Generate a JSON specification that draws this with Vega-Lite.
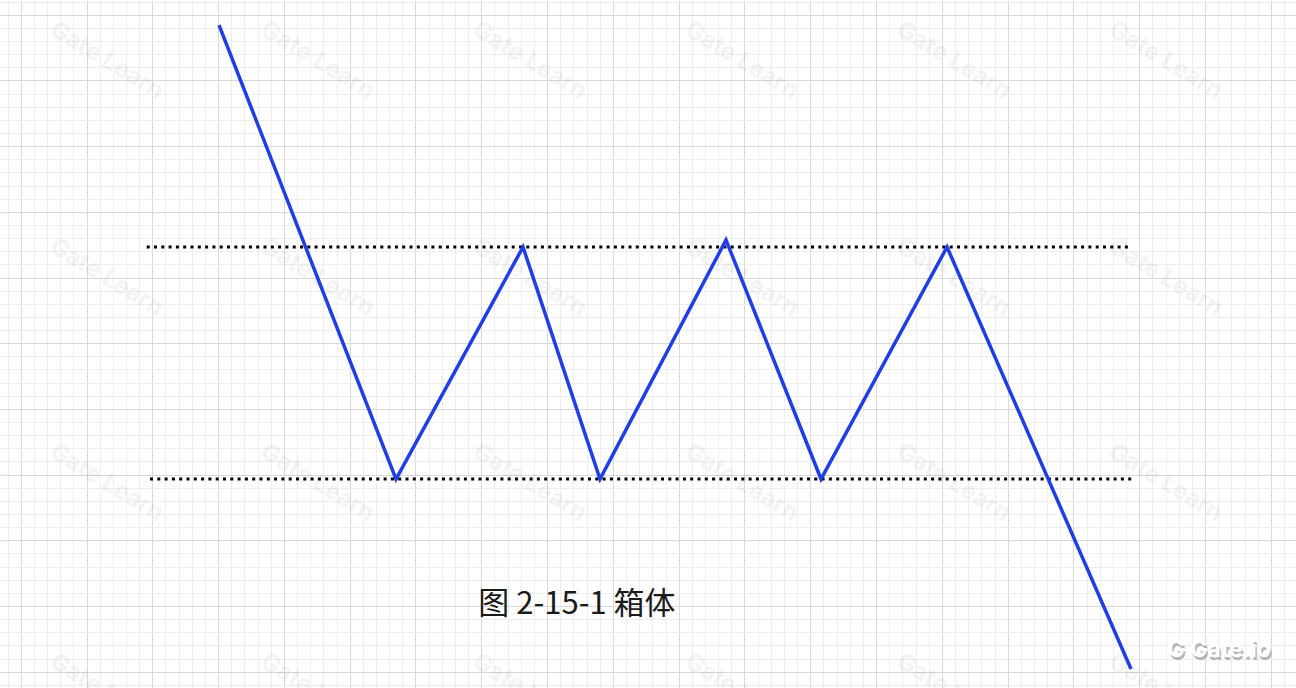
{
  "$schema": "https://vega.github.io/schema/vega-lite/v6.json",
  "width": 1296,
  "height": 688,
  "padding": 0,
  "autosize": {"type": "none"},
  "background": "#ffffff",
  "config": {"view": {"stroke": null}},
  "datasets": {
    "price": [
      {"t": 3.014, "p": 9.843},
      {"t": 5.704, "p": 2.933},
      {"t": 7.634, "p": 6.464},
      {"t": 8.804, "p": 2.933},
      {"t": 10.719, "p": 6.571},
      {"t": 12.163, "p": 2.933},
      {"t": 14.078, "p": 6.464},
      {"t": 16.874, "p": 0.041}
    ],
    "levels": [
      {"name": "resistance", "t1": 1.915, "t2": 16.859, "p": 6.464},
      {"name": "support", "t1": 1.965, "t2": 16.889, "p": 2.933}
    ],
    "caption": [
      {"t": 8.454, "p": 1.015, "label": "图 2-15-1 箱体"}
    ],
    "brand": [
      {"t": 17.43, "p": 0.33, "label": "G Gate.io"}
    ],
    "watermark": [
      {"t": 0.476, "p": 9.798}, {"t": 3.682, "p": 9.798}, {"t": 6.904, "p": 9.798}, {"t": 10.126, "p": 9.798}, {"t": 13.347, "p": 9.798}, {"t": 16.569, "p": 9.798},
      {"t": 0.476, "p": 6.495}, {"t": 3.682, "p": 6.495}, {"t": 6.904, "p": 6.495}, {"t": 10.126, "p": 6.495}, {"t": 13.347, "p": 6.495}, {"t": 16.569, "p": 6.495},
      {"t": 0.476, "p": 3.374}, {"t": 3.682, "p": 3.374}, {"t": 6.904, "p": 3.374}, {"t": 10.126, "p": 3.374}, {"t": 13.347, "p": 3.374}, {"t": 16.569, "p": 3.374},
      {"t": 0.476, "p": 0.178}, {"t": 3.682, "p": 0.178}, {"t": 6.904, "p": 0.178}, {"t": 10.126, "p": 0.178}, {"t": 13.347, "p": 0.178}, {"t": 16.569, "p": 0.178}
    ]
  },
  "layer": [
    {
      "data": {"name": "watermark"},
      "mark": {"type": "text", "text": "Gate Learn", "angle": 31, "align": "left", "baseline": "middle", "fontSize": 24, "fontWeight": "bold", "font": "Inter", "color": "#000000", "opacity": 0.04},
      "encoding": {
        "x": {"field": "t", "type": "quantitative", "scale": {"domain": [-0.3146, 19.3815], "nice": false, "zero": false},
              "axis": {"values": [-0.2,0.2,0.4,0.6,0.8,1.2,1.4,1.6,1.8,2.2,2.4,2.6,2.8,3.2,3.4,3.6,3.8,4.2,4.4,4.6,4.8,5.2,5.4,5.6,5.8,6.2,6.4,6.6,6.8,7.2,7.4,7.6,7.8,8.2,8.4,8.6,8.8,9.2,9.4,9.6,9.8,10.2,10.4,10.6,10.8,11.2,11.4,11.6,11.8,12.2,12.4,12.6,12.8,13.2,13.4,13.6,13.8,14.2,14.4,14.6,14.8,15.2,15.4,15.6,15.8,16.2,16.4,16.6,16.8,17.2,17.4,17.6,17.8,18.2,18.4,18.6,18.8,19.2],
                       "grid": true, "gridColor": "#eeeeee", "gridWidth": 1, "labels": false, "ticks": false, "domain": false, "title": null}},
        "y": {"field": "p", "type": "quantitative", "scale": {"domain": [-0.248, 10.224], "nice": false, "zero": false},
              "axis": {"values": [-0.2,0.2,0.4,0.6,0.8,1.2,1.4,1.6,1.8,2.2,2.4,2.6,2.8,3.2,3.4,3.6,3.8,4.2,4.4,4.6,4.8,5.2,5.4,5.6,5.8,6.2,6.4,6.6,6.8,7.2,7.4,7.6,7.8,8.2,8.4,8.6,8.8,9.2,9.4,9.6,9.8,10.2],
                       "grid": true, "gridColor": "#eeeeee", "gridWidth": 1, "labels": false, "ticks": false, "domain": false, "title": null}}
      }
    },
    {
      "data": {"name": "levels"},
      "mark": {"type": "rule", "color": "#000000", "strokeWidth": 3, "strokeDash": [3, 4.3], "strokeCap": "butt"},
      "encoding": {
        "x": {"field": "t1", "type": "quantitative", "scale": {"domain": [-0.3146, 19.3815], "nice": false, "zero": false},
              "axis": {"values": [0,1,2,3,4,5,6,7,8,9,10,11,12,13,14,15,16,17,18,19], "grid": true, "gridColor": "#d9d9d9", "gridWidth": 1, "labels": false, "ticks": false, "domain": false, "title": null}},
        "x2": {"field": "t2"},
        "y": {"field": "p", "type": "quantitative", "scale": {"domain": [-0.248, 10.224], "nice": false, "zero": false},
              "axis": {"values": [0,1,2,3,4,5,6,7,8,9,10], "grid": true, "gridColor": "#d9d9d9", "gridWidth": 1, "labels": false, "ticks": false, "domain": false, "title": null}}
      }
    },
    {
      "data": {"name": "price"},
      "mark": {"type": "line", "color": "#1f3de8", "strokeWidth": 3.5, "strokeJoin": "miter", "strokeCap": "butt"},
      "encoding": {
        "x": {"field": "t", "type": "quantitative", "axis": null},
        "y": {"field": "p", "type": "quantitative", "axis": null}
      }
    },
    {
      "data": {"name": "caption"},
      "mark": {"type": "text", "align": "center", "baseline": "middle", "fontSize": 31, "font": "Noto Sans CJK SC", "color": "#1a1a1a"},
      "encoding": {
        "x": {"field": "t", "type": "quantitative", "axis": null},
        "y": {"field": "p", "type": "quantitative", "axis": null},
        "text": {"field": "label"}
      }
    },
    {
      "data": {"name": "brand"},
      "mark": {"type": "text", "align": "left", "baseline": "middle", "fontSize": 23, "font": "Inter", "fontWeight": "bold", "color": "#888888", "opacity": 0.6, "dx": 1.5, "dy": 2.5},
      "encoding": {
        "x": {"field": "t", "type": "quantitative", "axis": null},
        "y": {"field": "p", "type": "quantitative", "axis": null},
        "text": {"field": "label"}
      }
    },
    {
      "data": {"name": "brand"},
      "mark": {"type": "text", "align": "left", "baseline": "middle", "fontSize": 23, "font": "Inter", "fontWeight": "bold", "color": "#ffffff"},
      "encoding": {
        "x": {"field": "t", "type": "quantitative", "axis": null},
        "y": {"field": "p", "type": "quantitative", "axis": null},
        "text": {"field": "label"}
      }
    }
  ],
  "resolve": {"axis": {"x": "independent", "y": "independent"}}
}
